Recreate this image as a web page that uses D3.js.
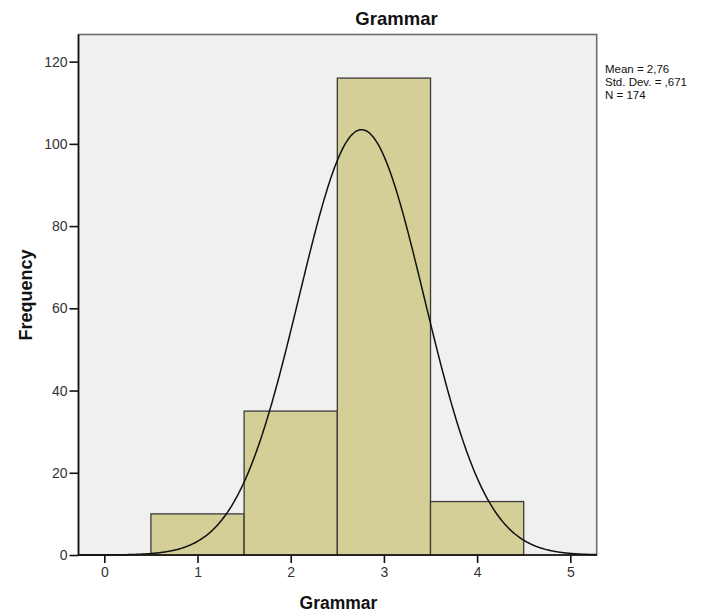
<!DOCTYPE html>
<html>
<head>
<meta charset="utf-8">
<script src="https://cdn.jsdelivr.net/npm/d3@7"></script>
<style>
  body { margin: 0; background: #fff; }
  svg { display: block; font-family: Arial, "Liberation Sans", sans-serif; }
</style>
</head>
<body>
<svg id="chart" width="704" height="614"></svg>
<script>
// ---- data ----
const binStarts = [0.5, 1.5, 2.5, 3.5];
const binEnds   = [1.5, 2.5, 3.5, 4.5];
const counts    = [10, 35, 116, 13];
const xTicks = [0, 1, 2, 3, 4, 5];
const yTicks = [0, 20, 40, 60, 80, 100, 120];
const statLines = ["Mean = 2,76", "Std. Dev. = ,671", "N = 174"];
const stats = { mean: 2.76, sd: 0.671, n: 174, binWidth: 1 };

// ---- layout ----
const svg = d3.select("#chart");
const L = 78.5, R = 596.7, T = 34.5, B = 555;
const x = d3.scaleLinear().domain([-0.277, 5.283]).range([L, R]);
const y = d3.scaleLinear().domain([0, 126.6]).range([B, T]);

// plot background + frame
svg.append("rect").attr("x", L).attr("y", T).attr("width", R - L).attr("height", B - T)
  .attr("fill", "#f0f0f0").attr("stroke", "#6e6e6e").attr("stroke-width", 1.6);

// bars
svg.append("g").selectAll("rect").data(counts).join("rect")
  .attr("x", (d, i) => x(binStarts[i]))
  .attr("width", (d, i) => x(binEnds[i]) - x(binStarts[i]))
  .attr("y", d => y(d))
  .attr("height", d => y(0) - y(d))
  .attr("fill", "#d3cf97")
  .attr("stroke", "#3a3a3a").attr("stroke-width", 1.3);

// normal curve fitted from the stats
const curvePts = d3.range(-0.277, 5.2831, 0.01).map(v => [v,
  stats.n * stats.binWidth / (stats.sd * Math.sqrt(2 * Math.PI)) *
  Math.exp(-0.5 * Math.pow((v - stats.mean) / stats.sd, 2))]);
svg.append("path").datum(curvePts)
  .attr("fill", "none").attr("stroke", "#111").attr("stroke-width", 1.5)
  .attr("d", d3.line().x(d => x(d[0])).y(d => y(d[1])).curve(d3.curveBasis));

// axes
const yAxis = svg.append("g").attr("transform", `translate(${L},0)`)
  .call(d3.axisLeft(y).tickValues(yTicks).tickFormat(d3.format("d")).tickSize(9).tickPadding(2).tickSizeOuter(0));
const xAxis = svg.append("g").attr("transform", `translate(0,${B})`)
  .call(d3.axisBottom(x).tickValues(xTicks).tickFormat(d3.format("d")).tickSize(8).tickPadding(4).tickSizeOuter(0));
[yAxis, xAxis].forEach(a => {
  a.attr("font-size", null).attr("font-family", null);
  a.select(".domain").attr("stroke", "#111").attr("stroke-width", 1.6);
  a.selectAll(".tick line").attr("stroke", "#111").attr("stroke-width", 1.6);
  a.selectAll(".tick text").attr("fill", "#333").style("font-size", "14px")
    .style("font-family", "Arial, 'Liberation Sans', sans-serif");
});
// axis lines as straight lines
yAxis.select(".domain").attr("d", `M0,${B}V${T}`);
xAxis.select(".domain").attr("d", `M${L},0H${R}`);

// titles
svg.append("text").attr("x", 396.5).attr("y", 25).attr("text-anchor", "middle")
  .style("font-size", "18.5px").style("font-weight", "bold").attr("fill", "#111").text("Grammar");
svg.append("text").attr("x", 338.5).attr("y", 609).attr("text-anchor", "middle")
  .style("font-size", "17.5px").style("font-weight", "bold").attr("fill", "#111").text("Grammar");
svg.append("text").attr("transform", `translate(32,295) rotate(-90)`).attr("text-anchor", "middle")
  .style("font-size", "18px").style("font-weight", "bold").attr("fill", "#111").text("Frequency");

// stats legend
svg.append("g").selectAll("text").data(statLines).join("text")
  .attr("x", 605).attr("y", (d, i) => 73 + i * 13)
  .style("font-size", "11.5px").attr("fill", "#111").text(d => d);
</script>
</body>
</html>
